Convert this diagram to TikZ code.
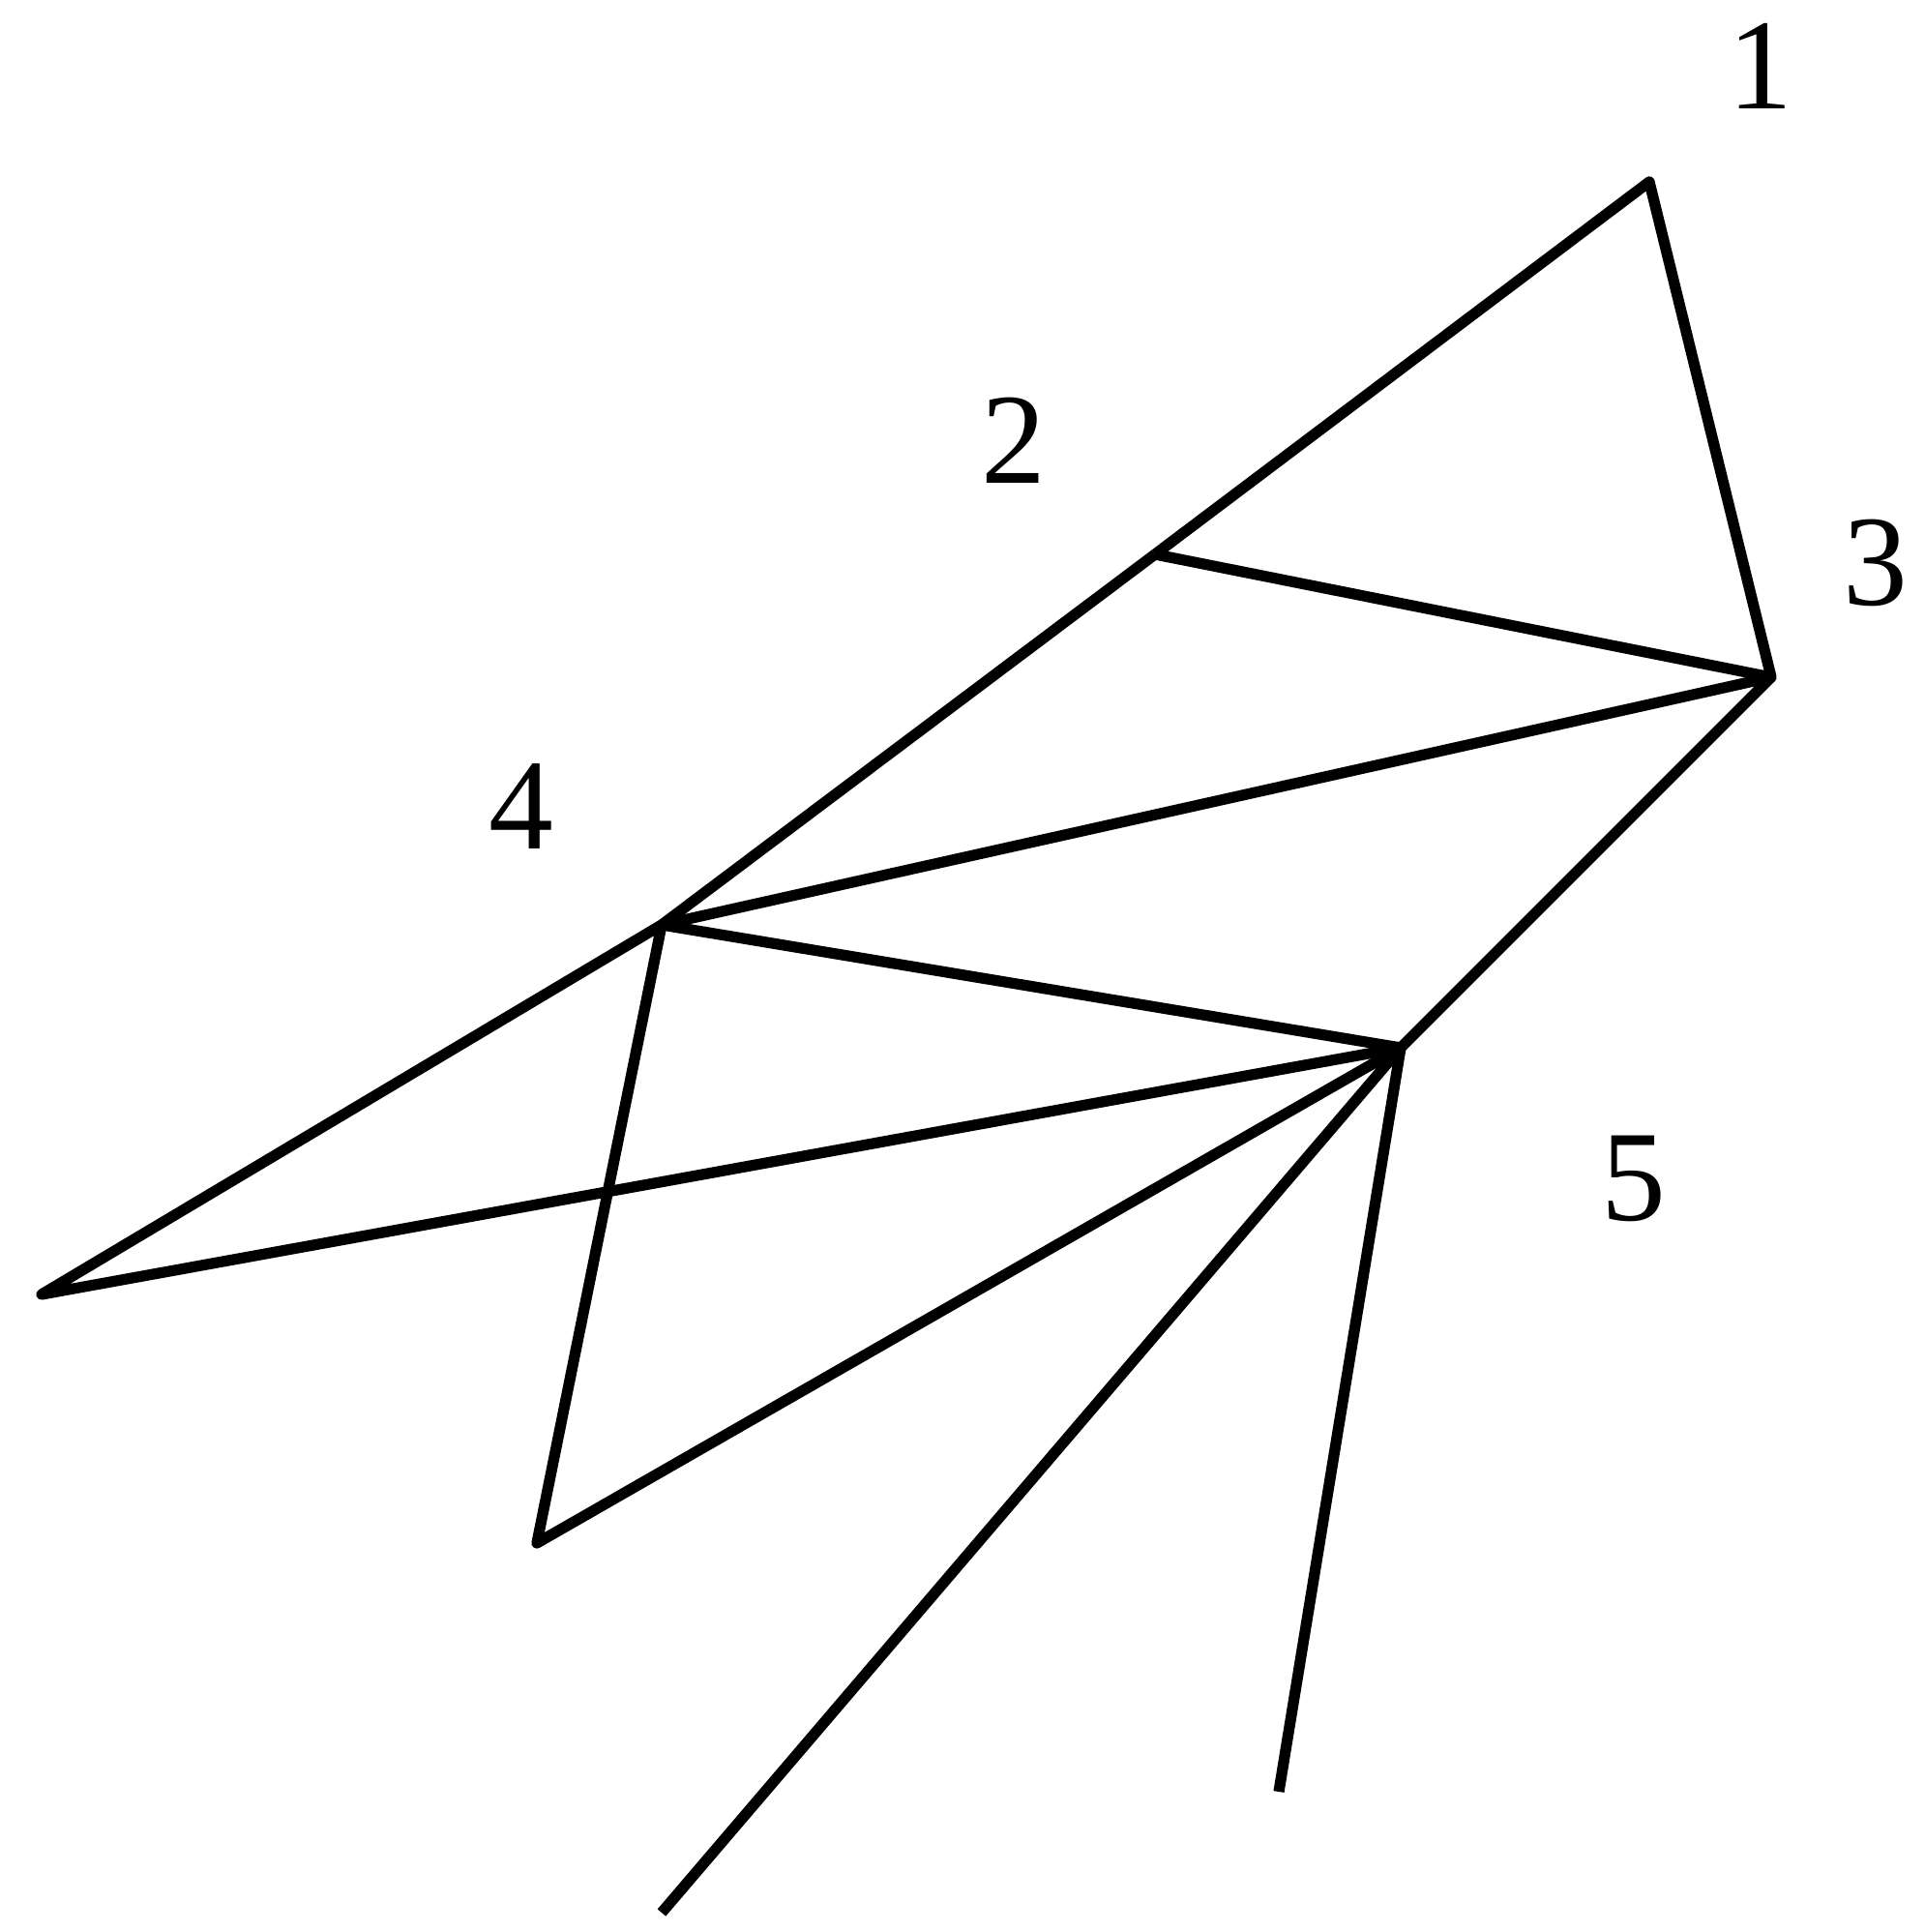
\documentclass[tikz,border=0pt]{standalone}
\usepackage{fontspec}
\setmainfont{Liberation Serif}

\begin{document}
\begin{tikzpicture}[font=\fontsize{38}{40}\selectfont,
    bar/.style={line width=3.2pt, black, line join=round},
    num/.style={inner sep=0pt}]
  \useasboundingbox (0,0) rectangle (19.90,19.97);

  % joints
  \coordinate (p1) at (17.05, 18.09);
  \coordinate (p2) at (11.94, 14.24);
  \coordinate (p3) at (18.31, 12.97);
  \coordinate (p4) at (6.84, 10.41);
  \coordinate (p5) at (14.48, 9.14);
  \coordinate (pl) at (0.43, 6.59);
  \coordinate (pb) at (5.55, 4.02);
  \coordinate (e1) at (6.84, 0.20);
  \coordinate (e2) at (13.22, 1.45);

  \draw[bar] (p2) -- (p1) -- (p3) -- (p2);
  \draw[bar] (p2) -- (p4) -- (pl) -- (p5);
  \draw[bar] (p3) -- (p4) -- (p5) -- (p3);
  \draw[bar] (p4) -- (pb) -- (p5);
  \draw[bar] (p5) -- (e1);
  \draw[bar] (p5) -- (e2);

  \node[num] (n1) at (18.20, 19.29) {1};
  \node[num] (n2) at (10.48, 15.42) {2};
  \node[num] (n3) at (19.39, 14.15) {3};
  \node[num] (n4) at (5.39, 11.63) {4};
  \node[num] (n5) at (16.89, 7.79) {5};

\end{tikzpicture}
\end{document}
